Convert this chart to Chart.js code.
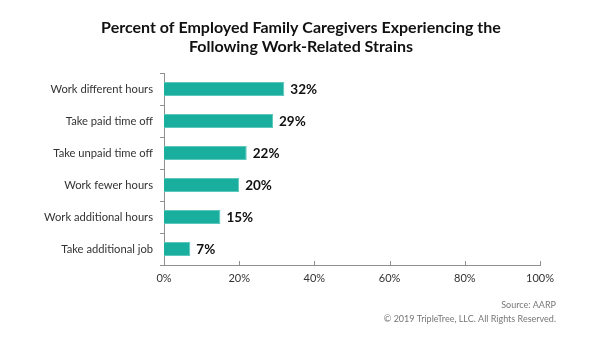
<!DOCTYPE html>
<html>
<head>
<meta charset="utf-8">
<script src="https://cdn.jsdelivr.net/npm/chart.js@4/dist/chart.umd.min.js"></script>
<style>
  html, body { margin: 0; padding: 0; background: #fff; }
  #wrap { width: 600px; height: 344px; position: relative; }
</style>
</head>
<body>
<div id="wrap"><canvas id="chart" width="600" height="344"></canvas></div>
<script>
const categories = [
    "Work different hours",
    "Take paid time off",
    "Take unpaid time off",
    "Work fewer hours",
    "Work additional hours",
    "Take additional job",
];
const strainPct = [32, 29, 22, 20, 15, 7];
const xTicks = [0, 20, 40, 60, 80, 100];
const titleLines = [
    "Percent of Employed Family Caregivers Experiencing the",
    "Following Work-Related Strains",
];
const sourceLines = ["Source: AARP", "\u00a9 2019 TripleTree, LLC. All Rights Reserved."];

const FONT = "Lato, 'Open Sans', sans-serif";
const axisColor = "#8f8f8f";

// value labels at the end of each bar
const valueLabels = {
    id: "valueLabels",
    afterDatasetsDraw(chart) {
        const ctx = chart.ctx;
        const meta = chart.getDatasetMeta(0);
        ctx.save();
        ctx.font = "bold 13.5px " + FONT;
        ctx.fillStyle = "#111";
        ctx.textAlign = "left";
        ctx.textBaseline = "middle";
        meta.data.forEach((bar, i) => {
            ctx.fillText(strainPct[i] + "%", bar.x + 6, bar.y + 1);
        });
        ctx.restore();
    },
};

// title centred on the page, x ticks pointing up, footer text
const extras = {
    id: "extras",
    afterDraw(chart) {
        const ctx = chart.ctx;
        const x = chart.scales.x;
        const bottom = chart.chartArea.bottom;
        ctx.save();
        ctx.strokeStyle = axisColor;
        ctx.lineWidth = 1;
        xTicks.forEach((v) => {
            const px = Math.round(x.getPixelForValue(v)) + 0.5;
            ctx.beginPath();
            ctx.moveTo(px, bottom);
            ctx.lineTo(px, bottom - 4);
            ctx.stroke();
        });

        ctx.font = "bold 16px " + FONT;
        ctx.fillStyle = "#111";
        ctx.textAlign = "center";
        ctx.textBaseline = "middle";
        ctx.fillText(titleLines[0], 301, 28);
        ctx.fillText(titleLines[1], 301, 47);

        ctx.font = "9px " + FONT;
        ctx.fillStyle = "#777";
        ctx.textAlign = "right";
        ctx.fillText(sourceLines[0], 556, 305);
        ctx.fillText(sourceLines[1], 556, 319);
        ctx.restore();
    },
};

const data = {
    labels: categories,
    datasets: [
        {
            label: "Work-related strains",
            data: strainPct,
            backgroundColor: "#19ae9e",
            borderColor: "#5cc8bb",
            borderWidth: 1,
            borderSkipped: "left",
            barPercentage: 0.44,
            categoryPercentage: 1.0,
        },
    ],
};

const config = {
    type: "bar",
    data: data,
    options: {
        indexAxis: "y",
        responsive: false,
        animation: false,
        layout: { padding: { left: 0, right: 60, top: 73, bottom: 54 } },
        plugins: {
            legend: { display: false },
            tooltip: { enabled: false },
            title: { display: false },
        },
        scales: {
            x: {
                min: 0,
                max: 100,
                afterBuildTicks(scale) {
                    scale.ticks = xTicks.map((v) => ({ value: v }));
                },
                afterFit(scale) {
                    scale.height = 25;
                },
                border: { display: true, color: axisColor, width: 1 },
                grid: { display: false, drawOnChartArea: false, drawTicks: false },
                ticks: {
                    color: "#333",
                    font: { family: FONT, size: 11 },
                    padding: 7,
                    callback: (v) => v + "%",
                },
            },
            y: {
                afterFit(scale) {
                    scale.width = 164;
                },
                border: { display: true, color: axisColor, width: 1 },
                grid: {
                    offset: true,
                    drawOnChartArea: false,
                    drawTicks: true,
                    tickLength: 4,
                    color: axisColor,
                },
                ticks: {
                    color: "#333",
                    font: { family: FONT, size: 11.2 },
                    padding: 7,
                },
            },
        },
    },
    plugins: [valueLabels, extras],
};

const myChart = new Chart(document.getElementById("chart"), config);
</script>
</body>
</html>
